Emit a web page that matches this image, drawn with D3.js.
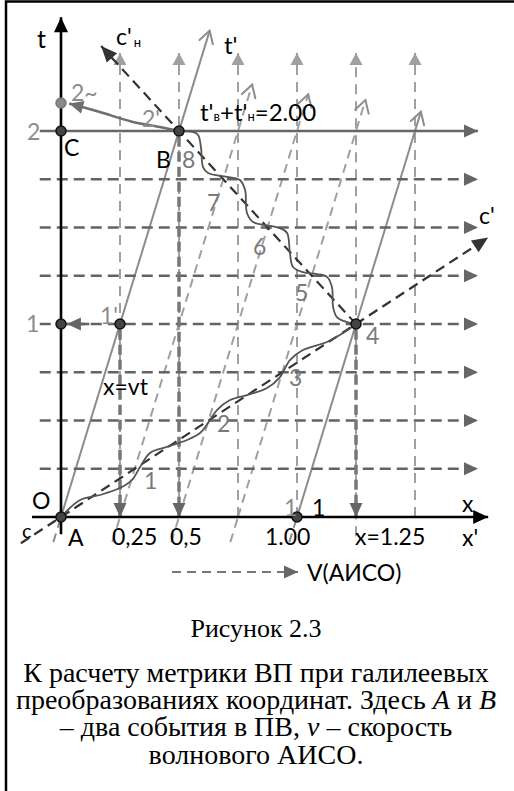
<!DOCTYPE html>
<html>
<head>
<meta charset="utf-8">
<script src="https://cdn.jsdelivr.net/npm/d3@7"></script>
<style>
  body { margin: 0; background: #fff; }
  svg { display: block; }
</style>
</head>
<body>
<svg id="fig" width="514" height="791"></svg>
<script>
// values, in (x, t) units
var v = 0.25;                                   // speed of the wave frame, x = vt
var gridT = [0.25, 0.5, 0.75, 1, 1.25, 1.5, 1.75];
var gridX = [0.25, 0.5, 0.75, 1, 1.25, 1.5];
var primeX = [0, 0.25, 0.5, 0.75, 1];           // lines x' = const
var primeTop = [2.52, 2.24, 2.19, 2.16, 2.10];
var primeSolid = [true, false, false, false, true];
var primeBottom = -0.13;
var dropLines = [[0.25, 1], [0.5, 2], [1.25, 1]];
var events = [[0, 0], [0.5, 2], [0, 2], [0, 1], [0.25, 1], [1.25, 1], [1, 0]];
var tilde2 = [0, 2.145];
var cLine = [[-0.17, -0.136], [1.81, 1.448]];
var cnLine = [[1.25, 1], [0.17, 2.44]];
var xTicks = [0.25, 0.5, 1, 1.25];
var xTickText = ["0,25", "0,5", "1.00", "x=1.25"];

// wavy path A -> 4
var wave1 = [[0, 0], [0.081, 0.088], [0.165, 0.114], [0.25, 0.15], [0.301, 0.192],
  [0.335, 0.259], [0.377, 0.332], [0.449, 0.363], [0.534, 0.399], [0.589, 0.435],
  [0.623, 0.487], [0.661, 0.554], [0.716, 0.606], [0.788, 0.632], [0.873, 0.668],
  [0.928, 0.725], [0.97, 0.813], [1.025, 0.865], [1.127, 0.907], [1.195, 0.953], [1.25, 1]];
// wavy path 4 -> B
var wave2 = [[1.25, 1], [1.212, 1.01], [1.169, 1.036], [1.153, 1.088], [1.148, 1.192],
  [1.127, 1.244], [1.085, 1.259], [1.025, 1.269], [0.983, 1.295], [0.97, 1.368],
  [0.958, 1.472], [0.928, 1.497], [0.886, 1.508], [0.814, 1.528], [0.788, 1.575],
  [0.78, 1.694], [0.758, 1.746], [0.703, 1.762], [0.623, 1.782], [0.602, 1.813],
  [0.593, 1.917], [0.581, 1.979], [0.559, 1.995], [0.5, 2]];
// B -> 2~
var arc2 = [[0.5, 2], [0.419, 2.021], [0.305, 2.047], [0.165, 2.098], [0.035, 2.143]];

var svg = d3.select("#fig");
var x = d3.scaleLinear().domain([0, 1]).range([61, 297]);
var y = d3.scaleLinear().domain([0, 2]).range([517, 131]);
var line = d3.line().x(function(d) { return x(d[0]); }).y(function(d) { return y(d[1]); });
var wavy = d3.line().curve(d3.curveCatmullRom.alpha(0.5))
  .x(function(d) { return x(d[0]); }).y(function(d) { return y(d[1]); });

var defs = svg.append("defs");
function marker(id, d, fill, stroke) {
  defs.append("marker").attr("id", id)
    .attr("markerUnits", "userSpaceOnUse")
    .attr("viewBox", "-20 -10 22 20")
    .attr("markerWidth", 22).attr("markerHeight", 20)
    .attr("refX", 0).attr("refY", 0)
    .attr("orient", "auto")
    .style("overflow", "visible")
  .append("path").attr("d", d)
    .attr("fill", fill).attr("stroke", stroke || "none")
    .attr("stroke-width", 2).attr("stroke-linecap", "round");
}
marker("aBlack", "M0,0L-15,-7L-15,7Z", "#000");
marker("aDark", "M0,0L-14,-6.5L-14,6.5Z", "#666");
marker("aLight", "M0,0L-12,-6.5L-12,6.5Z", "#a0a0a0");
marker("aC", "M0,0L-16,-7L-16,7Z", "#333");
marker("aGray", "M0,0L-14,-6.5L-14,6.5Z", "#6e6e6e");
marker("aChev", "M-12,-7L0,0L-12,7", "none", "#8c8c8c");

// frame
svg.append("rect").attr("x", 6).attr("y", 1.5).attr("width", 520).attr("height", 800)
  .attr("fill", "none").attr("stroke", "#000").attr("stroke-width", 2.5);

// vertical light grid
gridX.forEach(function(gx) {
  var t0 = gx === 1.25 ? -0.1 : 0;
  svg.append("path").attr("d", line([[gx, t0], [gx, 2.404]]))
    .attr("stroke", "#a0a0a0").attr("stroke-width", 2).attr("stroke-dasharray", "10,7")
    .attr("fill", "none").attr("marker-end", "url(#aLight)");
});

// lines x' = const
primeX.forEach(function(k, i) {
  var top = primeTop[i];
  var p = svg.append("path").attr("d", line([[k, 0], [k + v * top, top]]))
    .attr("fill", "none").attr("stroke-width", 2).attr("marker-end", "url(#aChev)");
  if (primeSolid[i]) p.attr("stroke", "#8c8c8c");
  else p.attr("stroke", "#a0a0a0").attr("stroke-dasharray", "9,6");
  svg.append("path").attr("d", line([[k + v * primeBottom, primeBottom], [k, 0]]))
    .attr("fill", "none").attr("stroke", primeSolid[i] ? "#8c8c8c" : "#a0a0a0")
    .attr("stroke-width", 2).attr("stroke-dasharray", "9,6");
});

// horizontal grid
gridT.forEach(function(gt) {
  svg.append("path").attr("d", line([[-0.09, gt], [1.767, gt]]))
    .attr("stroke", "#636363").attr("stroke-width", 2.6).attr("stroke-dasharray", "11,6")
    .attr("fill", "none").attr("marker-end", "url(#aDark)");
});
svg.append("path").attr("d", line([[-0.09, 2], [1.767, 2]]))
  .attr("stroke", "#666").attr("stroke-width", 2.6).attr("fill", "none")
  .attr("marker-end", "url(#aDark)");
svg.append("path").attr("d", line([[0.12, 1], [0.025, 1]]))
  .attr("stroke", "#666").attr("stroke-width", 2.6).attr("fill", "none")
  .attr("marker-end", "url(#aDark)");

// projections down to the x axis
dropLines.forEach(function(d) {
  svg.append("path").attr("d", line([[d[0], d[1] - 0.03], [d[0], 0]]))
    .attr("stroke", "#777").attr("stroke-width", 3.5).attr("stroke-dasharray", "10,5")
    .attr("fill", "none").attr("marker-end", "url(#aDark)");
});

// light lines c' and c'н
[cLine, cnLine].forEach(function(l) {
  svg.append("path").attr("d", line(l))
    .attr("stroke", "#333").attr("stroke-width", 2.2).attr("stroke-dasharray", "10,6")
    .attr("fill", "none").attr("marker-end", "url(#aC)");
});

// axes
svg.append("path").attr("d", line([[0, -0.09], [0, 2.59]]))
  .attr("stroke", "#000").attr("stroke-width", 2.6).attr("marker-end", "url(#aBlack)");
svg.append("path").attr("d", line([[-0.123, 0], [1.81, 0]]))
  .attr("stroke", "#000").attr("stroke-width", 2.6).attr("marker-end", "url(#aBlack)");

// wavy paths
[wave1, wave2].forEach(function(w) {
  svg.append("path").attr("d", wavy(w))
    .attr("stroke", "#555").attr("stroke-width", 1.8).attr("fill", "none");
});
svg.append("path").attr("d", wavy(arc2))
  .attr("stroke", "#6e6e6e").attr("stroke-width", 2.6).attr("fill", "none")
  .attr("marker-end", "url(#aGray)");

// events
svg.selectAll("circle.ev").data(events).enter().append("circle")
  .attr("class", "ev")
  .attr("cx", function(d) { return x(d[0]); })
  .attr("cy", function(d) { return y(d[1]); })
  .attr("r", 5).attr("fill", "#444").attr("stroke", "#111").attr("stroke-width", 1.5);
svg.append("circle").attr("cx", x(tilde2[0])).attr("cy", y(tilde2[1])).attr("r", 5)
  .attr("fill", "#8a8a8a").attr("stroke", "#777").attr("stroke-width", 1.5);

// legend arrow
svg.append("path").attr("d", "M172,572L298,572")
  .attr("stroke", "#777").attr("stroke-width", 2).attr("stroke-dasharray", "9,6")
  .attr("marker-end", "url(#aDark)");

// texts
var sans = "Lato, 'Open Sans', sans-serif";
function txt(px, py, s, size, fill, anchor) {
  return svg.append("text").attr("x", px).attr("y", py)
    .attr("font-family", sans).attr("font-size", size)
    .attr("fill", fill || "#000").attr("text-anchor", anchor || "start").text(s);
}
var G = "#8c8c8c", G2 = "#7a7a7a";
txt(37, 48, "t", 25);
var cn = txt(116, 45, "c'", 23);
cn.append("tspan").attr("font-size", 13).attr("dx", 2).attr("dy", 2).text("н");
txt(224, 54, "t'", 24);
txt(71, 101, "2~", 23, G);
txt(142, 127, "2'", 23, G);
var sum = svg.append("text").attr("x", 200).attr("y", 121)
  .attr("font-family", sans).attr("font-size", 24).attr("fill", "#000");
sum.append("tspan").text("t'");
sum.append("tspan").attr("font-size", 13).text("в");
sum.append("tspan").text("+t'");
sum.append("tspan").attr("font-size", 13).text("н");
sum.append("tspan").text("=2.00");
txt(27, 140, "2", 23, G);
txt(64, 156, "C", 23);
txt(156, 168, "B", 23);
txt(182, 168, "8", 23, G2);
txt(207, 211, "7", 23, G2);
txt(253, 255, "6", 23, G2);
txt(295, 301, "5", 23, G2);
txt(366, 344, "4", 23, G2);
txt(289, 386, "3", 23, G2);
txt(217, 432, "2", 23, G2);
txt(144, 489, "1", 23, G2);
txt(100, 324, "1'", 23, G);
txt(26, 332, "1", 23, G);
txt(103, 395, "x=vt", 23);
txt(32, 509, "O", 23);
txt(22, 538, "c", 20);
txt(68, 546, "A", 23);
var tickDx = [-8, -9, -32, -1];
xTicks.forEach(function(tv, i) {
  txt(x(tv) + tickDx[i], 545, xTickText[i], 23);
});
txt(462, 512, "x", 23);
txt(462, 546, "x'", 23);
txt(312, 516, "1", 23);
txt(284, 516, "1", 23, G);
txt(479, 224, "c'", 23);
txt(307, 581, "V(АИСО)", 23);

// caption
var serif = "'Liberation Serif', 'Times New Roman', serif";
function cap(py, size, parts) {
  var t = svg.append("text").attr("x", 256).attr("y", py)
    .attr("font-family", serif).attr("font-size", size).attr("text-anchor", "middle");
  parts.forEach(function(p) {
    var s = t.append("tspan").text(p[0]);
    if (p[1]) s.attr("font-style", "italic");
  });
}
cap(637, 26, [["Рисунок 2.3"]]);
cap(682, 28, [["К расчету метрики ВП при галилеевых"]]);
cap(709, 28, [["преобразованиях координат. Здесь "], ["A", 1], [" и "], ["B", 1]]);
cap(736, 28, [["– два события в ПВ, "], ["v", 1], [" – скорость"]]);
cap(764, 28, [["волнового АИСО."]]);
</script>
</body>
</html>
